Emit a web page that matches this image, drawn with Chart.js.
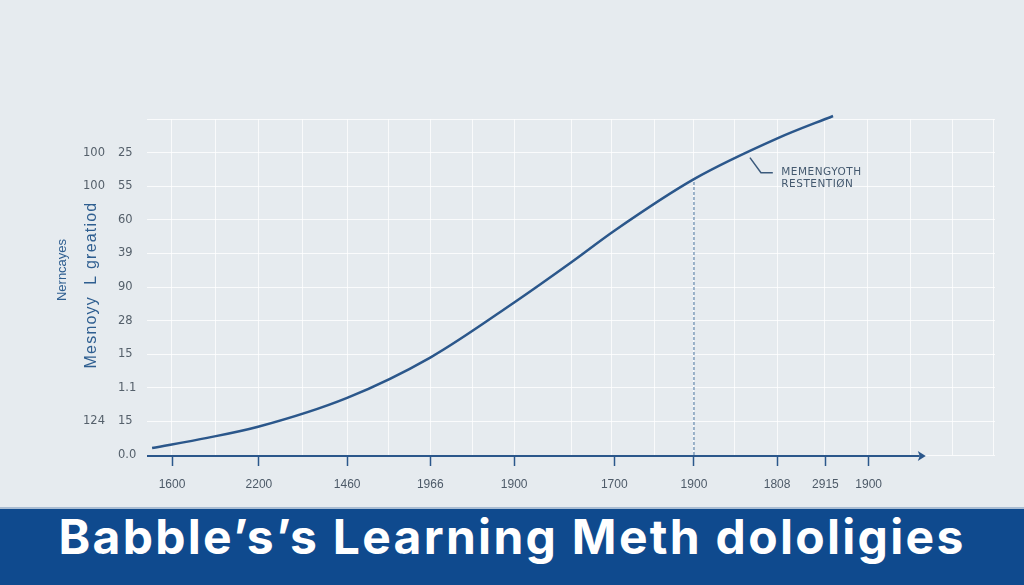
<!DOCTYPE html>
<html>
<head>
<meta charset="utf-8">
<script src="https://cdn.jsdelivr.net/npm/chart.js@4"></script>
<style>
  html, body { margin: 0; padding: 0; background: #e6ebef; }
  #wrap { width: 1024px; height: 507px; position: relative; }
  #banner {
    width: 1024px; height: 78px; background: #0f4a8e; color: #fff;
    font-family: Inter, Roboto, sans-serif; font-weight: 700; font-size: 48px;
    text-align: center; line-height: 56px; letter-spacing: 2.3px;
    border-top: 2px solid #a9bcd2; box-sizing: border-box;
  }
</style>
</head>
<body>
<div id="wrap"><canvas id="myChart" width="1024" height="507"></canvas></div>
<div id="banner">Babble’s’s Learning Meth dololigies</div>
<script>
// curve (x in axis units 0-100, y in grid steps 0-10)
const curveX = [0.6, 7.1, 13.1, 23.6, 33.4, 43.3, 50.0, 55.2, 64.5, 74.4, 80.9];
const curveY = [0.21, 0.51, 0.84, 1.70, 2.90, 4.54, 5.73, 6.69, 8.21, 9.43, 10.09];

// marker drop line
const markerX = 64.5;
const markerY = 8.21;

// x axis labels and where they sit
const xTickPos = [2.95, 13.2, 23.6, 33.4, 43.3, 55.1, 64.5, 74.3, 80.0, 85.1];
const xTickLabels = ['1600', '2200', '1460', '1966', '1900', '1700', '1900', '1808', '2915', '1900'];
const xGridPos = [2.9, 8.1, 13.1, 18.3, 23.6, 28.5, 33.4, 38.4, 43.3, 50.0, 54.8, 59.9, 64.5, 69.3, 74.4, 79.9, 85.0, 90.0, 95.0, 99.8];
const xArrowEnd = 91.6;

// y axis labels (two columns), bottom to top
const yTickPos = [0, 1, 2, 3, 4, 5, 6, 7, 8, 9, 10];
const yRightLabels = ['0.0', '15', '1.1', '15', '28', '90', '39', '60', '55', '25', ''];
const yLeftLabels = ['', '124', '', '', '', '', '', '', '100', '100', ''];

const yTitleInner = 'Mesnoyy  L greatiod';
const yTitleOuter = 'Nerncayes';
const noteLines = ['MEMENGYOTH', 'RESTENTIØN'];

const ink = '#2b578b';

const extras = {
    id: 'extras',
    afterDatasetsDraw(chart) {
        const ctx = chart.ctx;
        const x = chart.scales.x, y = chart.scales.y;
        const area = chart.chartArea;
        ctx.save();

        // x axis line with arrow
        const y0 = y.getPixelForValue(0) + 1;
        const xEnd = x.getPixelForValue(xArrowEnd);
        ctx.strokeStyle = ink;
        ctx.fillStyle = ink;
        ctx.lineWidth = 2;
        ctx.beginPath();
        ctx.moveTo(area.left, y0);
        ctx.lineTo(xEnd - 4, y0);
        ctx.stroke();
        ctx.beginPath();
        ctx.moveTo(xEnd + 2, y0);
        ctx.lineTo(xEnd - 6, y0 - 5);
        ctx.lineTo(xEnd - 4, y0);
        ctx.lineTo(xEnd - 6, y0 + 5);
        ctx.closePath();
        ctx.fill();

        // note leader and text
        ctx.strokeStyle = '#3b5a7c';
        ctx.lineWidth = 1.5;
        ctx.beginPath();
        ctx.moveTo(x.getPixelForValue(71.1), y.getPixelForValue(8.85));
        ctx.lineTo(x.getPixelForValue(72.4), y.getPixelForValue(8.40));
        ctx.lineTo(x.getPixelForValue(73.8), y.getPixelForValue(8.40));
        ctx.stroke();
        ctx.fillStyle = '#44596f';
        ctx.font = '10.5px "DejaVu Sans", sans-serif';
        ctx.textBaseline = 'middle';
        ctx.textAlign = 'left';
        ctx.letterSpacing = '0.5px';
        ctx.fillText(noteLines[0], x.getPixelForValue(74.8), y.getPixelForValue(8.40));
        ctx.fillText(noteLines[1], x.getPixelForValue(74.8), y.getPixelForValue(8.05));

        // rotated y titles
        ctx.fillStyle = '#2e5e90';
        ctx.textAlign = 'center';
        ctx.save();
        ctx.translate(area.left - 55, 285);
        ctx.rotate(-Math.PI / 2);
        ctx.font = '16px "Liberation Sans", Arial, sans-serif';
        ctx.letterSpacing = '1.2px';
        ctx.fillText(yTitleInner, 0, 0);
        ctx.restore();
        ctx.save();
        ctx.translate(area.left - 85, 270);
        ctx.rotate(-Math.PI / 2);
        ctx.font = '13px "Liberation Sans", Arial, sans-serif';
        ctx.letterSpacing = '0px';
        ctx.fillText(yTitleOuter, 0, 0);
        ctx.restore();

        ctx.restore();
    }
};

const ctx = document.getElementById('myChart').getContext('2d');
const chart = new Chart(ctx, {
    type: 'line',
    data: {
        datasets: [{
            label: 'Retention',
            data: curveX.map((v, i) => ({ x: v, y: curveY[i] })),
            borderColor: ink,
            borderWidth: 2.5,
            pointRadius: 0,
            cubicInterpolationMode: 'monotone',
            clip: false
        }, {
            label: 'Marker',
            data: [{ x: markerX, y: 0 }, { x: markerX, y: markerY }],
            borderColor: '#46709c',
            borderWidth: 1,
            borderDash: [3, 2],
            pointRadius: 0
        }]
    },
    options: {
        responsive: false,
        animation: false,
        layout: { padding: { left: 83, right: 29, top: 119, bottom: 0 } },
        plugins: { legend: { display: false }, tooltip: { enabled: false } },
        scales: {
            x: {
                type: 'linear', min: 0, max: 100, position: 'bottom', weight: 0,
                afterBuildTicks: s => { s.ticks = xGridPos.map(v => ({ value: v })); },
                afterFit: s => { s.height = 0; },
                ticks: { display: false },
                grid: { color: 'rgba(255,255,255,0.75)', drawTicks: false },
                border: { display: false }
            },
            x2: {
                type: 'linear', min: 0, max: 100, position: 'bottom', weight: 1,
                afterBuildTicks: s => { s.ticks = xTickPos.map(v => ({ value: v })); },
                afterFit: s => { s.height = 52; },
                ticks: {
                    autoSkip: false, maxRotation: 0, padding: 11,
                    color: '#4d5a68',
                    font: { family: '"Liberation Sans Narrow", "Liberation Sans", sans-serif', size: 12 },
                    callback: (v, i) => xTickLabels[i]
                },
                grid: { drawOnChartArea: false, drawTicks: true, tickLength: 11, tickWidth: 1.5, tickColor: ink },
                border: { display: false }
            },
            y: {
                type: 'linear', min: 0, max: 10, position: 'left', weight: 0,
                afterBuildTicks: s => { s.ticks = yTickPos.map(v => ({ value: v })); },
                afterFit: s => { s.width = 29; },
                ticks: {
                    crossAlign: 'far', padding: 0, color: '#55606b',
                    font: { family: '"DejaVu Sans", sans-serif', size: 11.5 },
                    callback: (v, i) => yRightLabels[i]
                },
                grid: { color: 'rgba(255,255,255,0.8)', drawTicks: false },
                border: { display: false }
            },
            y2: {
                type: 'linear', min: 0, max: 10, position: 'left', weight: 1,
                afterBuildTicks: s => { s.ticks = yTickPos.map(v => ({ value: v })); },
                afterFit: s => { s.width = 35; },
                ticks: {
                    crossAlign: 'far', padding: 0, color: '#55606b',
                    font: { family: '"DejaVu Sans", sans-serif', size: 11.5 },
                    callback: (v, i) => yLeftLabels[i]
                },
                grid: { display: false, drawOnChartArea: false },
                border: { display: false }
            }
        }
    },
    plugins: [extras]
});
</script>
</body>
</html>
